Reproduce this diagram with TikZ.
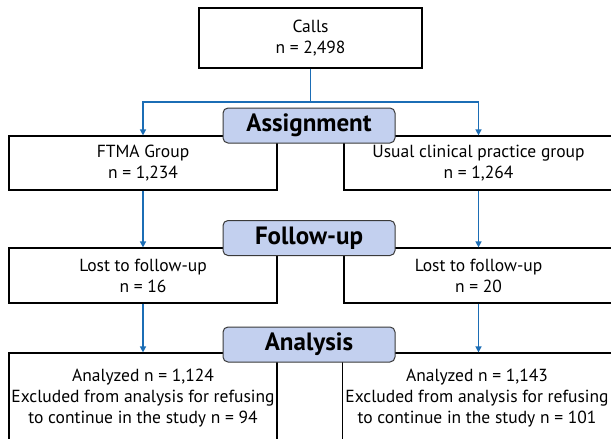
\documentclass[tikz,border=0pt]{standalone}
\usepackage{fontspec}
\setmainfont{PT Sans}
\usetikzlibrary{arrows.meta}
\definecolor{arrowblue}{HTML}{1B6DB5}
\definecolor{labelfill}{HTML}{C3D0EF}
\definecolor{labeldraw}{HTML}{3A3A3A}
\tikzset{
  x=1pt, y=1pt,
  box/.style={draw=black, line width=1.2pt, fill=white, inner sep=0pt, align=center,
    font=\fontsize{17.5}{21}\selectfont},
  stage/.style={draw=labeldraw, line width=1pt, fill=labelfill, rounded corners=5pt,
    minimum width=172pt, minimum height=35pt, inner sep=0pt,
    font=\fontsize{25}{28}\selectfont\bfseries},
  flow/.style={draw=arrowblue, line width=1.4pt},
  flowarrow/.style={flow, -{Triangle[length=6pt,width=6pt]}}
}
\begin{document}
\begin{tikzpicture}
\useasboundingbox (0,0) rectangle (611,-439);
% boxes
\node[box, minimum width=223pt, minimum height=60pt] (calls) at (310.5,-38) {Calls\\n = 2,498};
\node[box, minimum width=268pt, minimum height=54pt] (ftma) at (143,-163) {FTMA Group\\n = 1,234};
\node[box, minimum width=269pt, minimum height=54pt] (usual) at (478.5,-163) {Usual clinical practice group\\n = 1,264};
\node[box, minimum width=268pt, minimum height=55pt] (lost1) at (143,-275.5) {Lost to follow-up\\n = 16};
\node[box, minimum width=269pt, minimum height=55pt] (lost2) at (478.5,-275.5) {Lost to follow-up\\n = 20};
\node[box, minimum width=268pt, minimum height=90pt] (an1) at (143,-398) {Analyzed n = 1,124\\Excluded from analysis for refusing\\to continue in the study n = 94};
\node[box, minimum width=269pt, minimum height=90pt] (an2) at (477,-398) {Analyzed n = 1,143\\Excluded from analysis for refusing\\to continue in the study n = 101};
% connectors
\coordinate (split) at (310.5,-102);
\draw[flow] (calls.south) -- (split);
\draw[flowarrow] (split) -| (ftma.north);
\draw[flowarrow] (split) -| (usual.north);
\draw[flowarrow] (ftma) -- (lost1);
\draw[flowarrow] (usual) -- (lost2);
\draw[flowarrow] (lost1) -- (an1);
\draw[flowarrow] (lost2) -- (lost2 |- an2.north);
% stage labels
\node[stage] (assign) at (309,-125.5) {Assignment};
\node[stage] (follow) at (309,-238) {Follow-up};
\node[stage] (analysis) at (309,-344.5) {Analysis};
\end{tikzpicture}
\end{document}
